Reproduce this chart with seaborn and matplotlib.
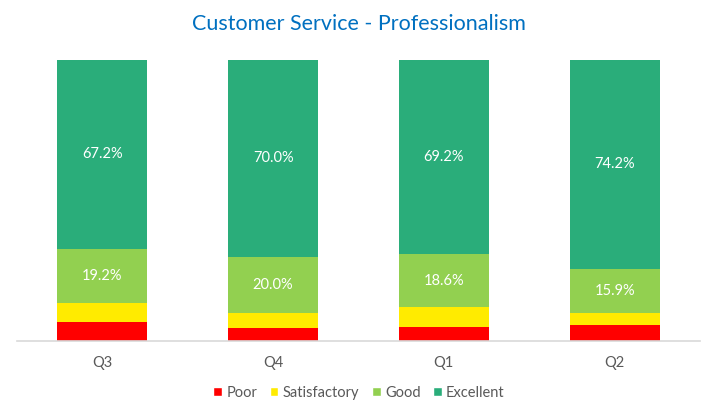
import numpy as np
import matplotlib
matplotlib.use('Agg')
import matplotlib.pyplot as plt
import seaborn as sns
from matplotlib.patches import Patch

quarters = ['Q3', 'Q4', 'Q1', 'Q2']
poor = [6.8, 4.6, 5.0, 5.7]
satisfactory = [6.8, 5.4, 7.2, 4.2]
good = [19.2, 20.0, 18.6, 15.9]
excellent = [67.2, 70.0, 69.2, 74.2]

series = ['Poor', 'Satisfactory', 'Good', 'Excellent']
colors = ['#FF0000', '#FFEB00', '#92D050', '#2AAD7A']
labelled = {'Good', 'Excellent'}

sns.set_theme(style='white')
plt.rcParams['font.family'] = ['Lato', 'DejaVu Sans']

fig = plt.figure(figsize=(7.18, 4.17), dpi=100)
ax = fig.add_axes([17 / 718, 1 - 341 / 417, 683 / 718, 281 / 417])

bottom = np.zeros(len(quarters))
for name, vals, col in zip(series, [poor, satisfactory, good, excellent], colors):
    sns.barplot(x=quarters, y=vals, order=quarters, bottom=bottom, color=col,
                width=0.527, saturation=1, ax=ax, linewidth=0)
    if name in labelled:
        cont = ax.containers[-1]
        ax.bar_label(cont, labels=[f'{v:.1f}%' for v in vals], label_type='center',
                     color='white', fontsize=10.5)
    bottom += np.array(vals)

ax.set_xlim(-0.5, 3.5)
ax.set_ylim(0, 100)
ax.set_yticks([])
sns.despine(ax=ax, left=True, top=True, right=True)
ax.spines['bottom'].set_color('#D9D9D9')
ax.spines['bottom'].set_linewidth(1.2)
ax.tick_params(axis='x', length=0, pad=11, labelsize=10.5, labelcolor='#595959')

fig.suptitle('Customer Service - Professionalism', x=0.5, y=1 - 14 / 417, va='top',
             fontsize=15.5, color='#0070C0')

handles = [Patch(facecolor=c, label=s) for s, c in zip(series, colors)]
fig.legend(handles=handles, loc='center', bbox_to_anchor=(0.5, 1 - 393 / 417), ncol=4,
           frameon=False, fontsize=10.5, handlelength=0.6, handleheight=0.6,
           handletextpad=0.3, columnspacing=0.85, labelcolor='#595959')

fig.savefig('out.png', dpi=100)
